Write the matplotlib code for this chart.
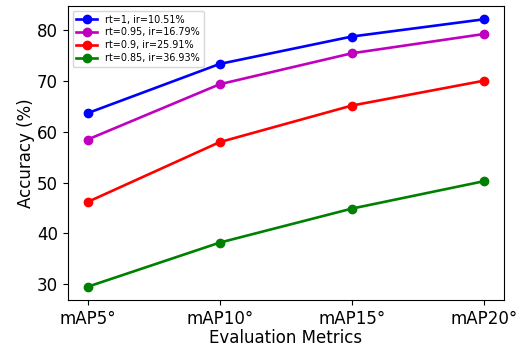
import matplotlib
matplotlib.use("Agg")
import matplotlib.pyplot as plt

# Данные с графика
metrics = ["mAP5°", "mAP10°", "mAP15°", "mAP20°"]
labels = ["rt=1, ir=10.51%", "rt=0.95, ir=16.79%", "rt=0.9, ir=25.91%", "rt=0.85, ir=36.93%"]
acc_rt100 = [63.7, 73.4, 78.8, 82.2]
acc_rt095 = [58.5, 69.4, 75.5, 79.3]
acc_rt090 = [46.2, 58.0, 65.2, 70.1]
acc_rt085 = [29.5, 38.2, 44.9, 50.3]
colors = ["b", "m", "r", "g"]

fig = plt.figure(figsize=(5.21, 3.47), dpi=100)
ax = fig.add_axes([0.130, 0.135, 0.837, 0.848])

x = range(len(metrics))
for ys, lab, c in zip([acc_rt100, acc_rt095, acc_rt090, acc_rt085], labels, colors):
    ax.plot(x, ys, marker="o", color=c, linewidth=1.9, markersize=6, label=lab)

ax.set_xticks(list(x))
ax.set_xticklabels(metrics, fontsize=12)
ax.tick_params(axis="y", labelsize=12)
ax.set_yticks([30, 40, 50, 60, 70, 80])
ax.set_xlabel("Evaluation Metrics", fontsize=12, labelpad=1)
ax.set_ylabel("Accuracy (%)", fontsize=12, labelpad=1)
ax.legend(loc="upper left", fontsize=6.9, handlelength=2.2, borderpad=0.4, labelspacing=0.3)

fig.savefig("out.png", dpi=100)
